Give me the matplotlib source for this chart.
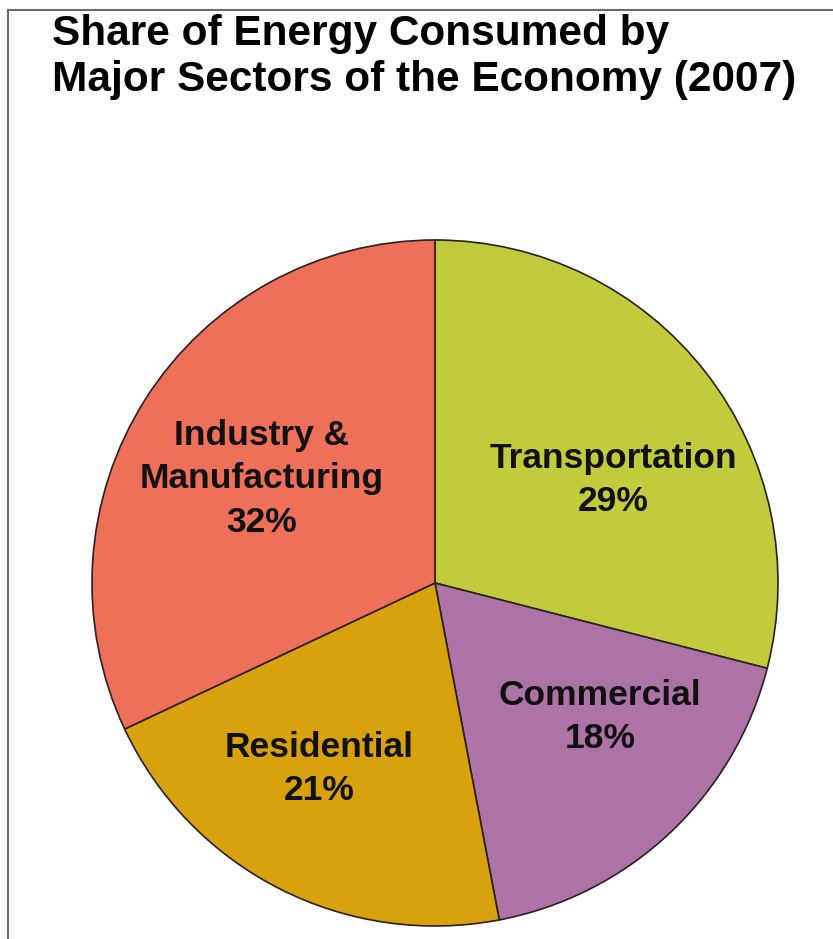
import matplotlib.pyplot as plt
from matplotlib.lines import Line2D
import numpy as np

sectors = ['Transportation', 'Commercial', 'Residential', 'Industry &\nManufacturing']
shares = [29, 18, 21, 32]
colors = ['#C2CB3B', '#AD72A6', '#D8A20E', '#EE7059']

fig = plt.figure(figsize=(8.33, 9.39), dpi=100)
plt.rcParams['font.family'] = ['Liberation Sans', 'DejaVu Sans']

# рамка: только сверху и слева
fig.add_artist(Line2D([7.5 / 833, 1], [1 - 10 / 939, 1 - 10 / 939], color='#6b6b6b', lw=1.5))
fig.add_artist(Line2D([7.5 / 833, 7.5 / 833], [0, 1 - 10 / 939], color='#6b6b6b', lw=1.5))

fig.text(52 / 833, 1 - 14 / 939, 'Share of Energy Consumed by\nMajor Sectors of the Economy (2007)',
         ha='left', va='top', fontsize=30.5, fontweight='bold', linespacing=1.2)

# круг: центр (435, 583), радиус ~343 px
R = 343
cx, cy = 435, 583
ax = fig.add_axes([(cx - R) / 833, 1 - (cy + R) / 939, 2 * R / 833, 2 * R / 939])
wedges, _ = ax.pie(shares, colors=colors, startangle=90, counterclock=False,
                   wedgeprops=dict(edgecolor='#2a2020', linewidth=1.2))
ax.set_xlim(-1, 1)
ax.set_ylim(-1, 1)
ax.set_aspect('auto')
ax.axis('off')

# положение подписей (угол в градусах, доля радиуса)
label_pos = {'Transportation': (30, 0.60), 'Commercial': (-39, 0.62),
             'Residential': (-122, 0.64), 'Industry &\nManufacturing': (149, 0.59)}
for name, val in zip(sectors, shares):
    ang, rr = label_pos[name]
    ax.text(rr * np.cos(np.radians(ang)), rr * np.sin(np.radians(ang)),
            f'{name}\n{val}%', ha='center', va='center', fontsize=25.5,
            fontweight='bold', linespacing=1.4, color='#111111')

fig.savefig('out.png', dpi=100)
